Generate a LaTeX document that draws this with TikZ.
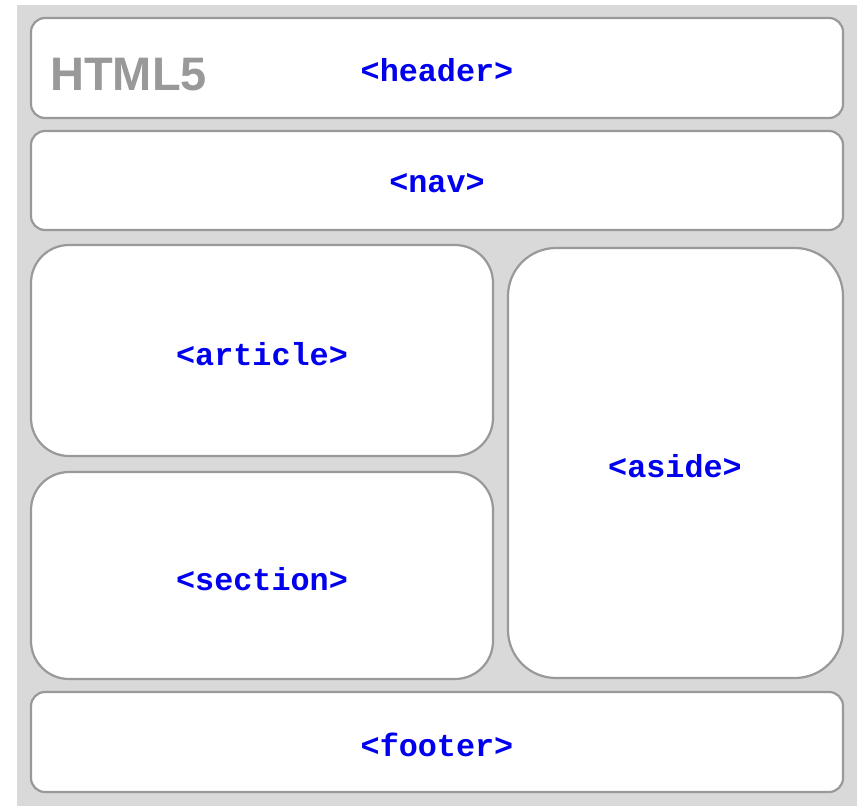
\documentclass[tikz,border=0pt]{standalone}
\usepackage{fontspec}
\newfontfamily\monobold[BoldFont={Liberation Mono Bold}]{Liberation Mono}
\newfontfamily\sansbold{Liberation Sans}
\definecolor{bggray}{RGB}{217,217,217}
\definecolor{edgegray}{RGB}{153,153,153}
\definecolor{tagblue}{RGB}{0,0,238}
\begin{document}
\begin{tikzpicture}[x=1pt,y=-1pt,
  region/.style={draw=edgegray,line width=2.2pt,fill=white},
  tag/.style={text=tagblue,font=\monobold\bfseries\fontsize{31.8}{36}\selectfont,inner sep=0pt}]
\useasboundingbox (0,0) rectangle (860,806);
\fill[white] (0,0) rectangle (860,806);
\fill[bggray] (17,5) rectangle (857,806);
\draw[region,rounded corners=14pt] (31,18) rectangle (843,118);
\coordinate (hdr) at (437,70.5);
\draw[region,rounded corners=14pt] (31,131) rectangle (843,230);
\coordinate (nav) at (437,183.5);
\draw[region,rounded corners=38pt] (31,245) rectangle (493,456);
\coordinate (art) at (262,354);
\draw[region,rounded corners=38pt] (31,472) rectangle (493,679);
\coordinate (sec) at (262,579);
\draw[region,rounded corners=48pt] (508,248) rectangle (843,678);
\coordinate (asd) at (675,466);
\draw[region,rounded corners=14pt] (31,692) rectangle (843,792);
\coordinate (ftr) at (437,745);
\node[tag] (t1) at (hdr) {<header>};
\node[tag] (t2) at (nav) {<nav>};
\node[tag] (t3) at (art) {<article>};
\node[tag] (t4) at (sec) {<section>};
\node[tag] (t5) at (asd) {<aside>};
\node[tag] (t6) at (ftr) {<footer>};
\node[anchor=base west,inner sep=0pt,text=edgegray,font=\sansbold\bfseries\fontsize{47}{54}\selectfont] (logo) at (50,90) {HTML5};
\end{tikzpicture}
\end{document}
